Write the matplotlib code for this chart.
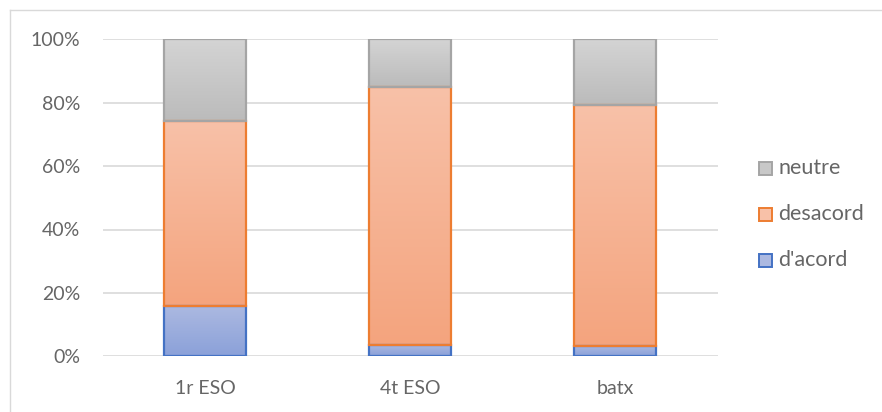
import matplotlib
matplotlib.use("Agg")
import matplotlib.pyplot as plt
import numpy as np
from matplotlib.patches import Rectangle
from matplotlib.colors import LinearSegmentedColormap
from matplotlib.lines import Line2D

categories = ["1r ESO", "4t ESO", "batx"]
series_names = ["d'acord", "desacord", "neutre"]
dacord = [16.0, 3.7, 3.3]
desacord = [58.2, 81.3, 75.9]
neutre = [25.8, 15.0, 20.8]
yticks = [0, 20, 40, 60, 80, 100]
ytick_labels = ["0%", "20%", "40%", "60%", "80%", "100%"]

grad = {
    "d'acord": ("#ACB9E1", "#8BA1D9", "#4472C4"),
    "desacord": ("#F8C1A8", "#F4A47E", "#ED7D31"),
    "neutre": ("#D4D4D4", "#BBBBBB", "#A5A5A5"),
}
text_color = "#666666"
font = "Lato"

W, H = 882, 412
fig = plt.figure(figsize=(W / 100, H / 100), dpi=100)
fig.patch.set_facecolor("white")

# chart border (left & top visible)
fig.add_artist(Line2D([10 / W, 10 / W], [0, 1 - 10 / H], color="#D9D9D9", lw=1))
fig.add_artist(Line2D([10 / W, 1], [1 - 10 / H, 1 - 10 / H], color="#D9D9D9", lw=1))

left, right = 102.5, 717.5
top, bottom = 39.3, 356.3
ax = fig.add_axes([left / W, 1 - bottom / H, (right - left) / W, (bottom - top) / H])
ax.set_xlim(-0.5, 2.5)
ax.set_ylim(0, 100)
for s in ax.spines.values():
    s.set_visible(False)
ax.set_yticks(yticks)
ax.set_yticklabels(ytick_labels)
ax.set_xticks(range(len(categories)))
ax.set_xticklabels(categories)
ax.tick_params(length=0, labelsize=14, labelcolor=text_color)
ax.tick_params(axis="y", pad=16)
ax.tick_params(axis="x", pad=17)
for lab in ax.get_xticklabels() + ax.get_yticklabels():
    lab.set_fontfamily(font)
ax.yaxis.grid(True, color="#D9D9D9", lw=1.2)
ax.set_axisbelow(True)

width = 0.403
x = np.arange(len(categories))
data = {"d'acord": dacord, "desacord": desacord, "neutre": neutre}
bottoms = np.zeros(len(categories))
for name in series_names:
    vals = np.array(data[name])
    c_top, c_bot, edge = grad[name]
    cmap = LinearSegmentedColormap.from_list(name, [c_bot, c_top])
    for i in range(len(categories)):
        b = bottoms[i]
        h = vals[i]
        rect = Rectangle((x[i] - width / 2, b), width, h, facecolor="none",
                         edgecolor=edge, lw=1.6, zorder=3)
        ax.add_patch(rect)
        img = ax.imshow(np.linspace(0, 1, 100).reshape(-1, 1), cmap=cmap,
                        extent=(x[i] - width / 2, x[i] + width / 2, b, b + h),
                        origin="lower", aspect="auto", zorder=2)
        img.set_clip_path(rect)
    bottoms += vals
ax.set_xlim(-0.5, 2.5)
ax.set_ylim(0, 100)

# legend
leg_items = [("neutre", 168), ("desacord", 214), ("d'acord", 260)]
sq = 13
for name, yc in leg_items:
    c_top, c_bot, edge = grad[name]
    mid = c_top if name != "neutre" else "#C8C8C8"
    fig.add_artist(Rectangle(((759) / W, 1 - (yc + sq / 2) / H), sq / W, sq / H,
                             facecolor=mid, edgecolor=edge, lw=1.4,
                             transform=fig.transFigure))
    fig.text(778 / W, 1 - yc / H, name, fontsize=15.5, color=text_color,
             fontfamily=font, va="center", ha="left")

fig.savefig("out.png", dpi=100)
